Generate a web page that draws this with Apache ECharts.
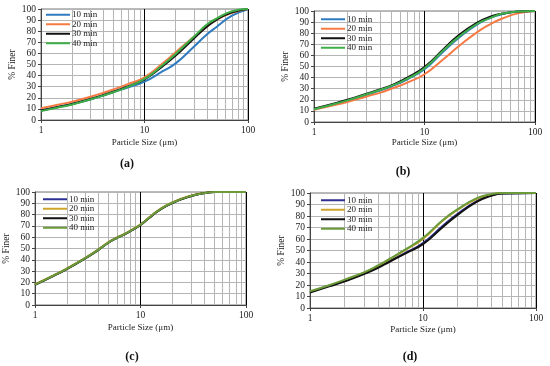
<!DOCTYPE html>
<html>
<head>
<meta charset="utf-8">
<script src="https://cdn.jsdelivr.net/npm/echarts@6/dist/echarts.min.js"></script>
<style>html,body{margin:0;padding:0;background:#fff}#c{width:550px;height:366px}</style>
</head>
<body>
<div id="c"></div>
<script>
// ---- data ----
const seriesNames = ['10 min', '20 min', '30 min', '40 min'];
const panelLabels = ['(a)', '(b)', '(c)', '(d)'];
const minorGridX = [2, 3, 4, 5, 6, 7, 8, 9, 20, 30, 40, 50, 60, 70, 80, 90];

const sizesA = [1, 1.5, 2, 3, 4, 5, 7, 10, 15, 20, 30, 40, 50, 70, 100];
const a10 = [8.5, 12, 14.5, 18.5, 22, 25, 29.5, 34.5, 44, 51, 66, 77, 84, 94, 99.8];
const a20 = [10.5, 14, 16.5, 21, 24.5, 27.5, 32.5, 38.5, 51, 61, 75, 84, 90.5, 96.5, 100];
const a30 = [8.5, 12, 14.5, 19, 22.5, 25.5, 30.5, 36.5, 48.5, 58, 73.5, 84, 90.5, 97, 100];
const a40 = [8, 11.5, 14, 18.5, 22, 25, 30, 37, 49.5, 59.5, 75, 86, 91.5, 98, 100];

const sizesB = [1, 1.5, 2, 3, 4, 5, 7, 10, 15, 20, 30, 40, 50, 70, 100];
const b10 = [11.5, 16, 19, 24.5, 28.5, 32, 38.5, 47.5, 64, 75, 88, 94, 97, 99.5, 100];
const b20 = [11, 15, 18, 23, 26.5, 30, 35.5, 43, 57, 67.5, 81, 88.5, 93, 98, 100];
const b30 = [12, 16.5, 20, 25.5, 29.5, 33, 40, 49.5, 66, 77.5, 89.5, 95, 97.5, 99.5, 100];
const b40 = [11.5, 16, 19.5, 25, 29, 32.5, 39, 48.5, 65, 76, 88.5, 94, 97.5, 99.5, 100];

const sizesC = [1, 1.5, 2, 3, 4, 5, 6, 7, 8, 10, 12, 15, 20, 30, 40, 50, 100];
const c10 = [18, 26, 32, 41.5, 49, 55.5, 59.5, 62.5, 65.5, 71, 77, 84, 90.5, 96.5, 99, 100, 100];
const c20 = [18.5, 26.3, 32.3, 41.8, 49.3, 55.8, 59.8, 62.8, 65.8, 71.3, 77.3, 84.3, 90.8, 96.7, 99.2, 100, 100];
const c30 = [17.8, 25.8, 31.8, 41.3, 48.8, 55.3, 59.5, 62.3, 65.3, 70.8, 76.8, 83.7, 90.2, 96.3, 98.9, 100, 100];
const c40 = [18, 26, 32, 41.5, 49, 55.5, 59.5, 62.5, 65.5, 71, 77, 84, 90.5, 96.5, 99, 100, 100];

const sizesD = [1, 1.5, 2, 3, 4, 5, 7, 10, 15, 20, 30, 40, 50, 100];
const d10 = [14, 19.5, 23.5, 30, 35.5, 40.5, 48, 56.5, 71.5, 81.5, 93, 98, 99.5, 100];
const d20 = [14, 19.5, 24, 30.5, 36.5, 42, 50.5, 60, 76, 85, 95, 98.5, 100, 100];
const d30 = [13.5, 19, 23, 29.5, 35, 40, 47.5, 55.5, 70.5, 80.5, 92.5, 97.5, 99.5, 100];
const d40 = [14.5, 20, 24.5, 31, 37, 42.5, 51, 61, 76.5, 85.5, 95.5, 99, 100, 100];

// ---- layout / style ----
const FONT = 'Liberation Serif';
const colorsAB = ['#2f7bc0', '#f77a45', '#111111', '#3fae49'];
const colorsCD = ['#2e3192', '#cfa52c', '#111111', '#6a9a3a'];

const panels = [
  { sizes: sizesA, vals: [a10, a20, a30, a40], colors: colorsAB,
    grid: { left: 41, top: 9, width: 207, height: 111 }, xGap: 18, yGap: 20,
    legend: { left: 46, top: 10 }, cap: [127, 164] },
  { sizes: sizesB, vals: [b10, b20, b30, b40], colors: colorsAB,
    grid: { left: 314, top: 11, width: 221, height: 111 }, xGap: 16, yGap: 21,
    legend: { left: 321, top: 14.5 }, cap: [403, 172] },
  { sizes: sizesC, vals: [c10, c20, c30, c40], colors: colorsCD,
    grid: { left: 35, top: 192, width: 211, height: 113 }, xGap: 18.5, yGap: 20,
    legend: { left: 43, top: 194.5 }, cap: [132, 357] },
  { sizes: sizesD, vals: [d10, d20, d30, d40], colors: colorsCD,
    grid: { left: 310, top: 193, width: 226, height: 115 }, xGap: 17.5, yGap: 18,
    legend: { left: 321, top: 195.5 }, cap: [410, 357] }
];

const option = {
  animation: false,
  backgroundColor: '#ffffff',
  textStyle: { fontFamily: FONT },
  grid: [], xAxis: [], yAxis: [], series: [], legend: [], graphic: []
};

panels.forEach((p, i) => {
  option.grid.push(Object.assign({ show: true, borderColor: '#777', borderWidth: 1, backgroundColor: 'transparent' }, p.grid));
  option.xAxis.push({
    type: 'log', logBase: 10, min: 1, max: 100, gridIndex: i,
    name: 'Particle Size (\u03bcm)', nameLocation: 'middle', nameGap: p.xGap,
    nameTextStyle: { fontFamily: FONT, fontSize: 9, color: '#222' },
    axisLine: { show: true, lineStyle: { color: '#444', width: 1 } },
    axisTick: { show: true, length: 3, lineStyle: { color: '#444' } },
    axisLabel: { fontFamily: FONT, fontSize: 9.5, color: '#222', margin: 5 },
    splitLine: { show: true, lineStyle: { color: '#000', width: 1 } },
    minorTick: { show: false }, minorSplitLine: { show: false }
  });
  option.yAxis.push({
    type: 'value', min: 0, max: 100, interval: 10, gridIndex: i,
    name: '% Finer', nameLocation: 'middle', nameGap: p.yGap, nameRotate: 90,
    nameTextStyle: { fontFamily: FONT, fontSize: 9.5, color: '#222' },
    axisLine: { show: true, lineStyle: { color: '#444', width: 1 } },
    axisTick: { show: true, length: 3, lineStyle: { color: '#444' } },
    axisLabel: { fontFamily: FONT, fontSize: 9.5, color: '#222', margin: 5 },
    splitLine: { show: true, lineStyle: { color: '#b5b5b5', width: 1 } }
  });
  seriesNames.forEach((nm, k) => {
    const s = {
      type: 'line', name: nm, xAxisIndex: i, yAxisIndex: i,
      data: p.sizes.map((x, j) => [x, p.vals[k][j]]),
      smooth: 0.5, showSymbol: false, symbol: 'none',
      lineStyle: { color: p.colors[k], width: 2 }, itemStyle: { color: p.colors[k] },
      z: 3 + k
    };
    if (k === 0) {
      s.markLine = {
        silent: true, symbol: ['none', 'none'], z: 1, animation: false,
        label: { show: false },
        lineStyle: { color: '#b5b5b5', width: 1, type: 'solid' },
        emphasis: { disabled: true },
        data: minorGridX.map(v => ({ xAxis: v }))
      };
    }
    option.series.push(s);
  });
  option.legend.push({
    orient: 'vertical', left: p.legend.left, top: p.legend.top,
    itemWidth: 24, itemHeight: 2, itemGap: 0, icon: 'rect', padding: 0,
    selectedMode: false,
    textStyle: { fontFamily: FONT, fontSize: 9, color: '#222', lineHeight: 9.5, padding: [0, 0, 0, -3] },
    data: seriesNames.map((nm, k) => ({ name: nm, itemStyle: { color: p.colors[k] } }))
  });
  option.graphic.push({
    type: 'text', x: p.cap[0], y: p.cap[1],
    style: { text: panelLabels[i], font: 'bold 12px "Liberation Serif"', fill: '#111',
             textAlign: 'center', textVerticalAlign: 'middle' }
  });
});

const chart = echarts.init(document.getElementById('c'), null, { renderer: 'canvas' });
chart.setOption(option);
</script>
</body>
</html>
